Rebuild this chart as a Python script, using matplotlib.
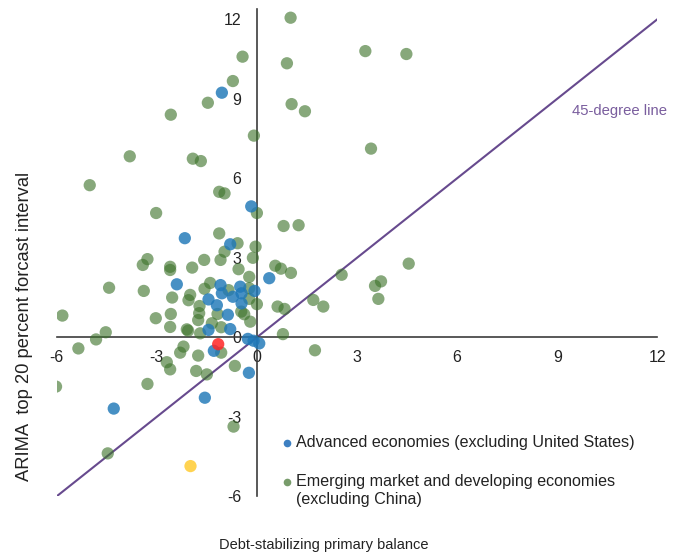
import matplotlib
matplotlib.use("Agg")
import matplotlib.pyplot as plt
import numpy as np

plt.rcParams['font.family'] = ['Liberation Sans', 'DejaVu Sans']
plt.rcParams['axes.unicode_minus'] = False

# Debt-stabilizing primary balance (x) vs ARIMA top-20% forecast interval (y)
adv_x = [-1.05, -0.17, -2.16, -0.80, 0.37, -2.40, -1.09, -1.05, -0.72, -0.50, -0.46,
         -0.07, -1.45, -1.20, -0.46, -0.87, -1.45, -0.80, -0.27, -0.10, 0.07, -1.29,
         -0.24, -1.56, -4.29]
adv_y = [9.23, 4.94, 3.74, 3.51, 2.23, 2.00, 1.97, 1.66, 1.53, 1.91, 1.66,
         1.75, 1.43, 1.21, 1.28, 0.85, 0.28, 0.31, -0.06, -0.13, -0.23, -0.51,
         -1.34, -2.28, -2.69]

em_x = [-0.43, -0.72, -1.47, -2.58, -0.09, -3.81, -1.92, -1.68, -5.01, -1.13, -0.97,
        1.01, 3.25, 4.48, 0.90, 1.04, 1.44, 3.42,
        0.00, -3.02, -1.13, -0.58, -0.04, -0.97, -0.12, -3.28, -3.42, -1.58, -1.09,
        -2.60, -2.60, -1.94, -0.55, -4.43, -3.39, -0.23, -1.40, -1.57, -0.85, -0.23,
        -2.00, -2.05, -2.54, -0.23, 0.00, -1.72, -0.47, -0.38, -0.20, -1.73, -2.58,
        -3.03, -1.18, -1.76, -1.35, -1.07, -5.83, -2.60, -2.10, -2.06, -1.70, -4.53,
        -4.82, -5.35, -1.07, -2.20, -2.30, -1.76, -2.70, -2.60, -1.82, -1.50, -0.66,
        -3.28, -6.02, -0.70, -4.47,
        0.80, 1.25, 0.55, 0.72, 1.02, 2.54, 4.55, 3.72, 3.54, 3.64, 1.69, 1.99,
        0.62, 0.83, 0.78, 1.74]
em_y = [10.59, 9.67, 8.85, 8.40, 7.61, 6.83, 6.74, 6.65, 5.74, 5.49, 5.43,
        12.06, 10.80, 10.69, 10.34, 8.80, 8.53, 7.12,
        4.69, 4.69, 3.92, 3.55, 3.42, 3.23, 3.00, 2.95, 2.73, 2.92, 2.92,
        2.66, 2.54, 2.63, 2.57, 1.87, 1.75, 2.28, 2.05, 1.83, 1.78, 1.85,
        1.60, 1.40, 1.50, 1.45, 1.25, 1.18, 0.97, 0.87, 0.59, 0.91, 0.88,
        0.72, 0.88, 0.65, 0.53, 0.38, 0.82, 0.39, 0.30, 0.25, 0.15, 0.19,
        -0.08, -0.42, -0.58, -0.35, -0.58, -0.69, -0.94, -1.21, -1.27, -1.40, -1.08,
        -1.76, -1.86, -3.37, -4.38,
        4.20, 4.23, 2.70, 2.59, 2.43, 2.36, 2.78, 2.11, 1.94, 1.45, 1.41, 1.16,
        1.16, 1.07, 0.12, -0.49]

red_x, red_y = [-1.16], [-0.26]
yellow_x, yellow_y = [-1.99], [-4.86]

xticks = [-6, -3, 0, 3, 6, 9, 12]
yticks = [-6, -3, 0, 3, 6, 9, 12]

W, H = 677, 558
fig = plt.figure(figsize=(W / 100, H / 100), dpi=100)
ax = fig.add_axes([56.7 / W, 1 - 496.3 / H, 600.6 / W, (496.3 - 8.7) / H])
ax.set_xlim(-6, 12)
ax.set_ylim(-6, 12.4)

green = (0.24, 0.45, 0.17, 0.62)
blue = (0.12, 0.47, 0.72, 0.82)
ax.scatter(em_x, em_y, s=78, color=green, edgecolors='none', zorder=3)
ax.scatter(adv_x, adv_y, s=78, color=blue, edgecolors='none', zorder=4)
ax.scatter(red_x, red_y, s=78, color=(1.0, 0.15, 0.15, 0.85), edgecolors='none', zorder=5)
ax.scatter(yellow_x, yellow_y, s=78, color=(1.0, 0.80, 0.20, 0.85), edgecolors='none', zorder=5)

# 45-degree reference line
ax.plot([-6, 12], [-6, 12], color='#674a8e', lw=1.5, zorder=2)
ax.text(9.45, 8.54, '45-degree line', color='#7a5e9e', fontsize=10.7,
        ha='left', va='center')

for side in ['top', 'right']:
    ax.spines[side].set_visible(False)
ax.spines['left'].set_position(('data', 0))
ax.spines['bottom'].set_position(('data', 0))
ax.spines['left'].set_bounds(-6, 12.4)
for side in ['left', 'bottom']:
    ax.spines[side].set_color('#3c3c3c')
    ax.spines[side].set_linewidth(1.2)

ax.set_xticks(xticks)
ax.set_yticks(yticks)
ax.tick_params(axis='both', length=0, labelsize=11.5, colors='#222222')
ax.tick_params(axis='x', pad=9)
ax.tick_params(axis='y', pad=11)
ax.patch.set_visible(False)

fig.text(323.5 / W, 1 - 545 / H, 'Debt-stabilizing primary balance', fontsize=10.5,
         color='#222222', ha='center', va='center')
fig.text(25 / W, 1 - 326.5 / H, 'ARIMA  top 20 percent forcast interval', fontsize=13.2,
         color='#222222', ha='center', va='center', rotation=90)

# legend
fig.add_artist(plt.Line2D([286.7 / W], [1 - 443 / H], marker='o', ms=5.5, ls='none',
                          color=(0.24, 0.5, 0.76), markeredgewidth=0))
fig.add_artist(plt.Line2D([286.7 / W], [1 - 481.5 / H], marker='o', ms=5.5, ls='none',
                          color=(0.47, 0.61, 0.42), markeredgewidth=0))
fig.text(296 / W, 1 - 443 / H, 'Advanced economies (excluding United States)',
         fontsize=11.6, color='#222222', ha='left', va='center')
fig.text(296 / W, 1 - 481.7 / H, 'Emerging market and developing economies',
         fontsize=11.6, color='#222222', ha='left', va='center')
fig.text(296 / W, 1 - 499.7 / H, '(excluding China)',
         fontsize=11.6, color='#222222', ha='left', va='center')

fig.savefig('out.png', dpi=100)
